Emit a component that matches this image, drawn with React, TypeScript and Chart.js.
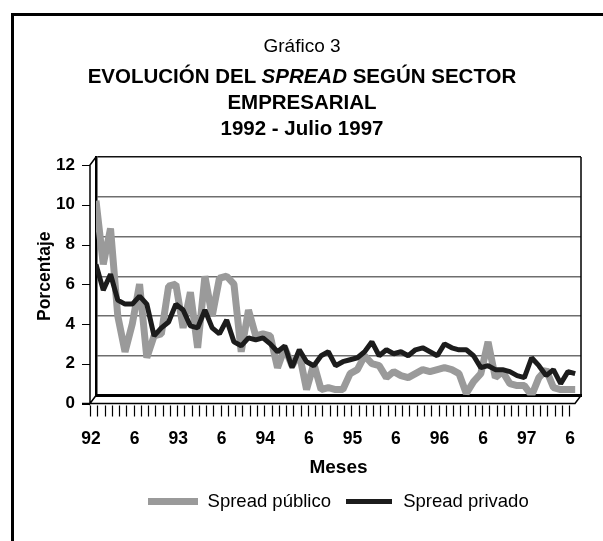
import React, { useEffect, useRef } from "react";
import { Chart, registerables } from "chart.js";

Chart.register(...registerables);

const FONT = "'Liberation Sans', Arial, Helvetica, sans-serif";
const GRAY = "#9a9a9a";
const BLACK = "#1c1c1c";

// Monthly data, January 1992 - July 1997 (67 months)
const spreadPublico = [
  9.8, 6.6, 8.4, 4.0, 2.2, 3.6, 5.6, 1.9, 3.0, 3.1,
  5.5, 5.6, 3.4, 5.2, 2.4, 6.0, 4.0, 5.9, 6.0, 5.6,
  2.2, 4.3, 3.0, 3.1, 3.0, 1.4, 2.4, 1.5, 2.1, 0.3,
  1.6, 0.3, 0.4, 0.3, 0.3, 1.1, 1.3, 2.0, 1.6, 1.5,
  0.9, 1.2, 1.0, 0.9, 1.1, 1.3, 1.2, 1.3, 1.4, 1.3,
  1.1, 0.1, 0.7, 1.1, 2.7, 0.9, 1.2, 0.6, 0.5, 0.5,
  0.0, 0.9, 1.3, 0.4, 0.3, 0.3, 0.3,
];

const spreadPrivado = [
  6.6, 5.3, 6.1, 4.8, 4.6, 4.6, 5.0, 4.6, 3.0, 3.4,
  3.7, 4.6, 4.3, 3.5, 3.4, 4.3, 3.4, 3.1, 3.8, 2.7,
  2.5, 2.9, 2.8, 2.9, 2.6, 2.2, 2.5, 1.4, 2.3, 1.7,
  1.5, 2.0, 2.2, 1.5, 1.7, 1.8, 1.9, 2.2, 2.7, 2.0,
  2.3, 2.1, 2.2, 2.0, 2.3, 2.4, 2.2, 2.0, 2.6, 2.4,
  2.3, 2.3, 2.0, 1.4, 1.5, 1.3, 1.3, 1.2, 1.0, 0.9,
  1.9, 1.5, 1.0, 1.3, 0.6, 1.2, 1.1,
];

// One label every 6 months
const xTickLabels = ["92", "6", "93", "6", "94", "6", "95", "6", "96", "6", "97", "6"];
const yTicks = [0, 2, 4, 6, 8, 10, 12];

const DX = -6;
const DY = 8;

export default function App() {
  const ref = useRef<HTMLCanvasElement | null>(null);

  useEffect(() => {
    const canvas = ref.current;
    if (!canvas) return;

    const mk = (w: number, h: number, color: string) => {
      const c = document.createElement("canvas");
      c.width = w;
      c.height = h;
      const g = c.getContext("2d")!;
      g.fillStyle = color;
      g.fillRect(0, 0, w, h);
      return c;
    };
    const swatches = [mk(50, 7, GRAY), mk(46, 5, BLACK)];

    const frame3d = {
      id: "frame3d",
      afterDraw(chart: any) {
        const { ctx, chartArea } = chart;
        const { left: L, right: R, top: T, bottom: B } = chartArea;
        const xs = chart.scales.x;
        const ys = chart.scales.y;
        ctx.save();
        ctx.strokeStyle = "#000";
        ctx.lineWidth = 1.5;
        ctx.beginPath();
        ctx.moveTo(R, T);
        ctx.lineTo(R, B);
        ctx.moveTo(L, T);
        ctx.lineTo(L + DX, T + DY);
        ctx.lineTo(L + DX, B + DY);
        ctx.lineTo(L, B);
        ctx.moveTo(L + DX - 8, B + DY);
        ctx.lineTo(R + DX, B + DY);
        ctx.lineTo(R, B);
        ctx.stroke();
        ctx.lineWidth = 1.2;
        ctx.beginPath();
        for (const v of yTicks) {
          const y = Math.round(ys.getPixelForValue(v) + DY) + 0.5;
          ctx.moveTo(L + DX - 8, y);
          ctx.lineTo(L + DX, y);
        }
        for (let i = 0; i < spreadPublico.length; i++) {
          const x = Math.round(xs.getPixelForValue(i) + DX) + 0.5;
          ctx.moveTo(x, B + DY + 2);
          ctx.lineTo(x, B + DY + 13);
        }
        ctx.stroke();
        ctx.restore();
      },
    };

    const chart = new Chart(canvas, {
      type: "line",
      data: {
        datasets: [
          {
            label: "Spread público",
            data: spreadPublico.map((v, i) => ({ x: i, y: v })),
            borderColor: GRAY,
            backgroundColor: GRAY,
            borderWidth: 7,
            pointRadius: 0,
            tension: 0,
            borderJoinStyle: "bevel",
            order: 1,
          },
          {
            label: "Spread privado",
            data: spreadPrivado.map((v, i) => ({ x: i, y: v })),
            borderColor: BLACK,
            backgroundColor: BLACK,
            borderWidth: 5,
            pointRadius: 0,
            tension: 0,
            borderJoinStyle: "bevel",
            order: 0,
          },
        ],
      },
      options: {
        animation: false,
        responsive: false,
        maintainAspectRatio: false,
        devicePixelRatio: 1,
        layout: { padding: { top: 157, left: 35, right: 22, bottom: 20 } },
        scales: {
          x: {
            type: "linear",
            min: 0,
            max: 66.8,
            grid: {
              display: true,
              drawOnChartArea: false,
              drawTicks: true,
              tickLength: 15,
              tickColor: "rgba(0,0,0,0)",
            },
            border: { display: true, color: "#000", width: 3 },
            ticks: {
              stepSize: 6,
              includeBounds: false,
              autoSkip: false,
              maxRotation: 0,
              padding: 18,
              labelOffset: -5,
              color: "#000",
              font: { family: FONT, size: 17.5, weight: "bold" },
              callback: (v: any) => xTickLabels[Math.round(Number(v) / 6)] ?? "",
            },
            title: {
              display: true,
              text: "Meses",
              color: "#000",
              padding: 0,
              font: { family: FONT, size: 19, weight: "bold" },
            },
            afterFit: (s: any) => {
              s.height = 84;
            },
          },
          y: {
            min: 0,
            max: 12,
            grid: {
              drawTicks: false,
              lineWidth: 1.4,
              color: (c: any) => (c.tick && c.tick.value === 12 ? "#111" : "#6e6e6e"),
            },
            border: { display: true, color: "#000", width: 2.5 },
            ticks: {
              stepSize: 2,
              padding: 21,
              labelOffset: 8,
              color: "#000",
              font: { family: FONT, size: 17, weight: "bold" },
            },
            title: {
              display: true,
              text: "Porcentaje",
              color: "#000",
              padding: 0,
              font: { family: FONT, size: 17.5, weight: "bold" },
            },
            afterFit: (s: any) => {
              s.width = 61;
            },
          },
        },
        plugins: {
          tooltip: { enabled: false },
          legend: {
            position: "bottom",
            fullSize: false,
            labels: {
              usePointStyle: true,
              pointStyleWidth: 50,
              boxWidth: 50,
              padding: 13,
              color: "#000",
              font: { family: FONT, size: 18.5 },
              sort: (a: any, b: any) => a.datasetIndex - b.datasetIndex,
              generateLabels: (ch: any) =>
                (Chart.defaults.plugins.legend.labels as any)
                  .generateLabels(ch)
                  .map((it: any) => ({ ...it, pointStyle: swatches[it.datasetIndex] })),
            },
          },
        },
      } as any,
      plugins: [frame3d],
    });

    return () => chart.destroy();
  }, []);

  const line = (center: number, lh: number, size: number, bold: boolean) => ({
    position: "absolute" as const,
    left: 0,
    width: 604,
    top: center - lh / 2,
    lineHeight: lh + "px",
    height: lh,
    textAlign: "center" as const,
    fontSize: size,
    fontWeight: bold ? 700 : 400,
    fontFamily: FONT,
    color: "#000",
    whiteSpace: "nowrap" as const,
  });

  return (
    <div
      style={{
        position: "absolute",
        left: 0,
        top: 0,
        width: 603,
        height: 541,
        overflow: "hidden",
        background: "#fff",
        fontFamily: FONT,
      }}
    >
      <div
        style={{
          position: "absolute",
          left: 11,
          top: 13,
          width: 700,
          height: 700,
          borderLeft: "3px solid #000",
          borderTop: "3px solid #000",
        }}
      />
      <canvas
        ref={ref}
        width={603}
        height={541}
        style={{ position: "absolute", left: 0, top: 0, width: 603, height: 541 }}
      />
      <div style={line(46, 24, 19, false)}>Gráfico 3</div>
      <div style={line(76, 26, 20.5, true)}>
        EVOLUCIÓN DEL <i>SPREAD</i> SEGÚN SECTOR
      </div>
      <div style={line(102, 26, 20.5, true)}>EMPRESARIAL</div>
      <div style={line(128, 26, 20.5, true)}>1992 - Julio 1997</div>
    </div>
  );
}
